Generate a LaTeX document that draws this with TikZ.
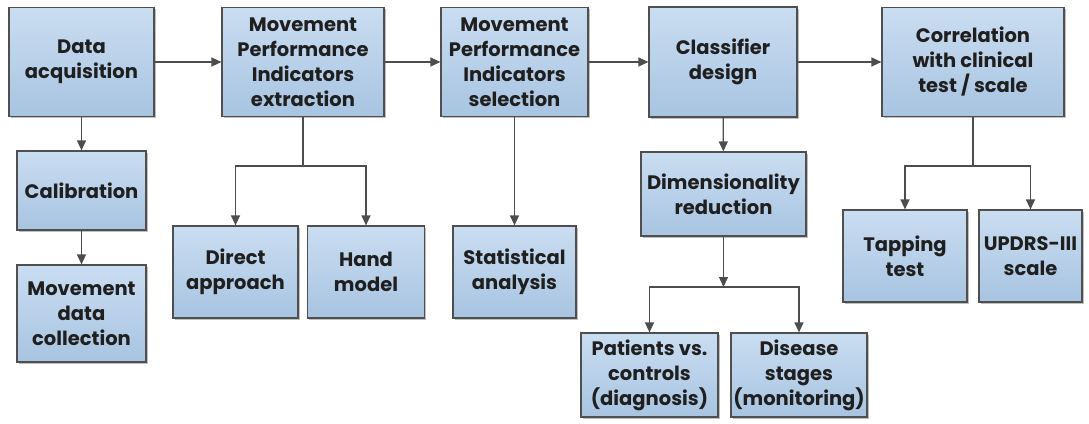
\documentclass[tikz,border=0pt]{standalone}
\usepackage{fontspec}
\setmainfont{Poppins}
\usetikzlibrary{arrows.meta,shadows}
\definecolor{boxtop}{HTML}{CADDF1}
\definecolor{boxbot}{HTML}{A8C4E1}
\definecolor{boxline}{HTML}{4F4F4F}
\definecolor{conn}{HTML}{4D4D4D}
\begin{document}
\begin{tikzpicture}[x=1pt,y=-1pt,
  blk/.style={draw=boxline, line width=1.2pt, top color=boxtop, bottom color=boxbot,
    align=center, inner sep=0pt, text=black!88,
    font=\fontsize{19.5}{25}\selectfont\bfseries,
    drop shadow={shadow xshift=1.5pt, shadow yshift=-1.5pt, opacity=0.25, fill=black}},
  line/.style={draw=conn, line width=1.3pt},
  arr/.style={line, -{Triangle[length=10pt,width=9pt]}}]
\useasboundingbox (0,0) rectangle (1089,423);
% top row
\node[blk, minimum width=145pt, minimum height=109pt] (acq) at (81.5,62) {Data\\acquisition};
\node[blk, minimum width=162pt, minimum height=109pt] (ext) at (303,62) {Movement\\Performance\\Indicators\\extraction};
\node[blk, minimum width=147pt, minimum height=109pt] (sel) at (514.5,62) {Movement\\Performance\\Indicators\\selection};
\node[blk, minimum width=148pt, minimum height=110pt] (cls) at (723,62) {Classifier\\design};
\node[blk, minimum width=182pt, minimum height=109pt] (cor) at (973,62) {Correlation\\with clinical\\test / scale};
% left column
\node[blk, minimum width=129pt, minimum height=79pt] (cal) at (81.5,190.5) {Calibration};
\node[blk, minimum width=129pt, minimum height=97pt] (mdc) at (81.5,313.5) {Movement\\data\\collection};
% extraction children
\node[blk, minimum width=125pt, minimum height=92pt] (dir) at (235.5,272) {Direct\\approach};
\node[blk, minimum width=117pt, minimum height=92pt] (hand) at (366,272) {Hand\\model};
\node[blk, minimum width=123pt, minimum height=92pt] (stat) at (514.5,272) {Statistical\\analysis};
% classifier children
\node[blk, minimum width=165pt, minimum height=84pt] (dim) at (723.5,194) {Dimensionality\\reduction};
\node[blk, minimum width=137pt, minimum height=84pt] (pat) at (649.5,375) {Patients vs.\\controls\\(diagnosis)};
\node[blk, minimum width=136pt, minimum height=84pt] (dis) at (799,375) {Disease\\stages\\(monitoring)};
% correlation children
\node[blk, minimum width=124pt, minimum height=92pt] (tap) at (905,256) {Tapping\\test};
\node[blk, minimum width=103pt, minimum height=92pt] (upd) at (1030.5,256) {UPDRS-III\\scale};
% junctions
\coordinate (j1) at (303,166);
\coordinate (j2) at (723.5,287);
\coordinate (j3) at (973,166);
% connectors
\draw[arr] (acq) -- (ext);
\draw[arr] (ext) -- (sel);
\draw[arr] (sel) -- (cls);
\draw[arr] (cls) -- (cor);
\draw[arr] (acq) -- (cal);
\draw[arr] (cal) -- (mdc);
\draw[line] (ext.south) -- (j1);
\draw[arr] (j1) -| (dir);
\draw[arr] (j1) -| (hand);
\draw[arr] (sel) -- (stat);
\draw[arr] (cls) -- (dim);
\draw[arr] (dim.south) -- (j2);
\draw[arr] (j2) -| (pat);
\draw[arr] (j2) -| (dis);
\draw[line] (cor.south) -- (j3);
\draw[arr] (j3) -| (tap);
\draw[arr] (j3) -| (upd);
\end{tikzpicture}
\end{document}
